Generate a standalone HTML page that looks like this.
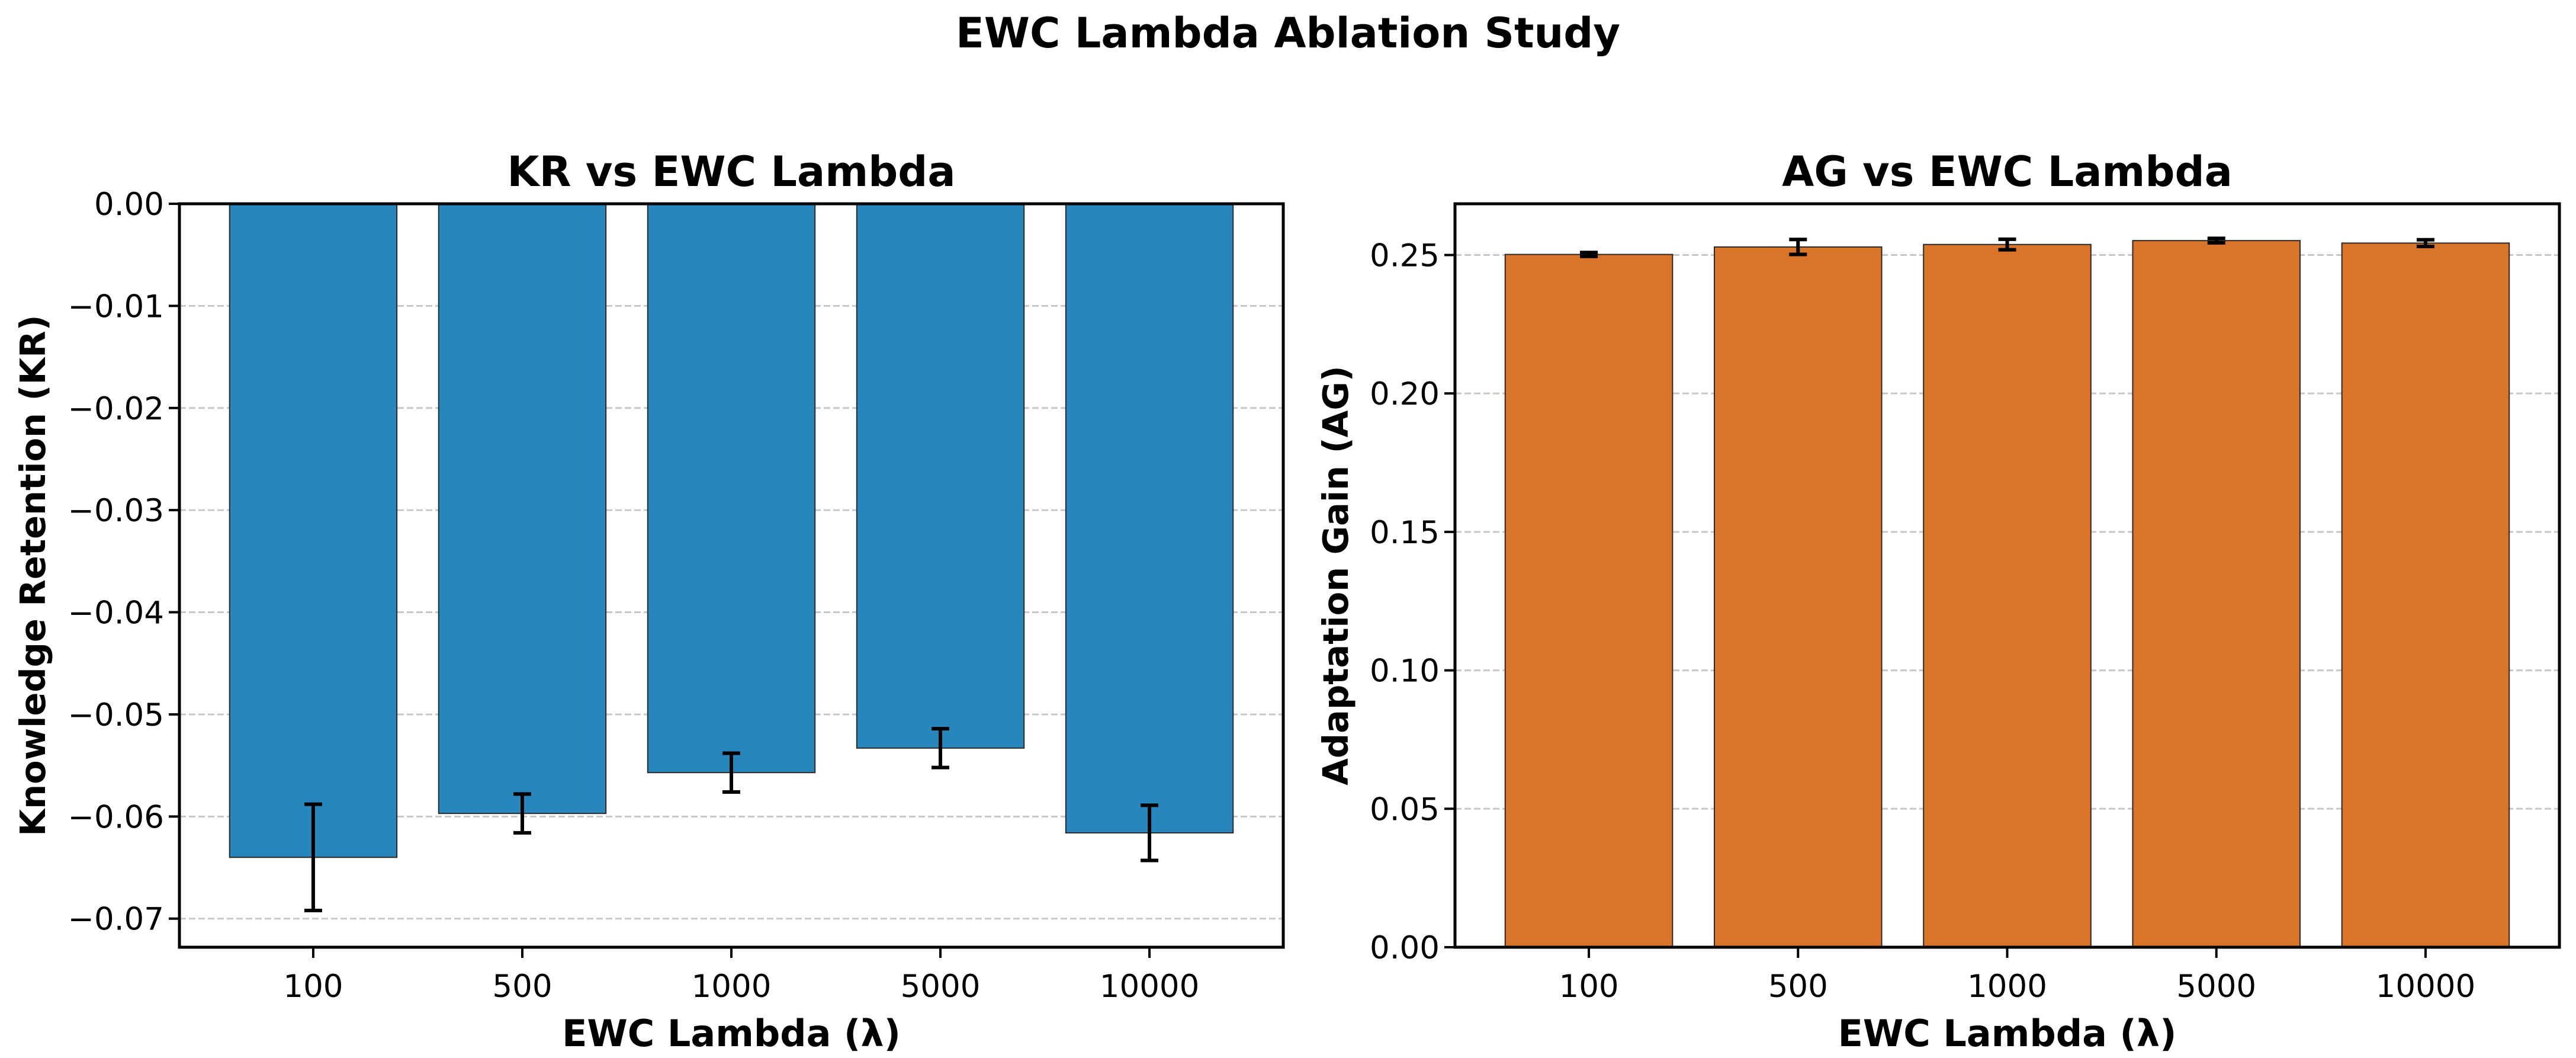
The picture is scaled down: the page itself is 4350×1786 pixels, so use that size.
<!DOCTYPE html>
<html><head><meta charset="utf-8"><style>
html,body{margin:0;padding:0;background:#fff;}
svg{display:block;font-family:"DejaVu Sans","Liberation Sans",sans-serif;}
</style></head><body>
<svg id="fig" width="4350" height="1786" viewBox="0 0 4350 1786" xmlns="http://www.w3.org/2000/svg">
<rect width="4350" height="1786" fill="#fff"/>
<text x="2175" y="80" text-anchor="middle" font-size="70" font-weight="bold">EWC Lambda Ablation Study</text>
<g id="left"></g>
<g id="right"></g>
</svg>
<script>
const categories = ["100","500","1000","5000","10000"];
const krValues = [-0.0640,-0.0597,-0.0557,-0.0533,-0.0616];
const krErrors = [0.0052,0.0019,0.0019,0.0019,0.0027];
const krTicks = [0,-0.01,-0.02,-0.03,-0.04,-0.05,-0.06,-0.07];
const krTickLabels = ["0.00","\u22120.01","\u22120.02","\u22120.03","\u22120.04","\u22120.05","\u22120.06","\u22120.07"];
const agValues = [0.2502,0.2529,0.2538,0.2552,0.2543];
const agErrors = [0.0007,0.0027,0.0019,0.0008,0.0012];
const agTicks = [0,0.05,0.10,0.15,0.20,0.25];
const agTickLabels = ["0.00","0.05","0.10","0.15","0.20","0.25"];

const NS="http://www.w3.org/2000/svg";
function mk(parent,tag,attrs,text){const e=document.createElementNS(NS,tag);for(const k in attrs)e.setAttribute(k,attrs[k]);if(text!==undefined)e.textContent=text;parent.appendChild(e);return e;}

function drawChart(g,opt){
  const L=opt.left,R=opt.right,T=344,B=1599;
  const xs=i=>L+(i+0.64)*(R-L)/5.28;
  const ys=v=>B-(v-opt.ymin)/(opt.ymax-opt.ymin)*(B-T);
  const bw=0.8*(R-L)/5.28;
  opt.ticks.forEach((t,i)=>{
    const y=ys(t);
    const gl=mk(g,"line",{x1:L,x2:R,y1:y,y2:y,stroke:"#c8c8c8","stroke-width":3,"stroke-dasharray":"11,5"});
    
    
  });
  opt.values.forEach((v,i)=>{
    const y0=ys(0),y1=ys(v);
    const b=mk(g,"rect",{x:xs(i)-bw/2,y:Math.min(y0,y1),width:bw,height:Math.abs(y1-y0),fill:opt.color,stroke:"#2a2a2a","stroke-width":2});
    
    
  });
  opt.values.forEach((v,i)=>{
    const e=opt.errors[i],cx=xs(i);
    const eg=mk(g,"g",{stroke:"#000","stroke-width":6});
    
    
    mk(eg,"line",{x1:cx,x2:cx,y1:ys(v-e),y2:ys(v+e)});
    mk(eg,"line",{x1:cx-15,x2:cx+15,y1:ys(v-e),y2:ys(v-e)});
    mk(eg,"line",{x1:cx-15,x2:cx+15,y1:ys(v+e),y2:ys(v+e)});
  });
  const fr=mk(g,"rect",{x:L,y:T,width:R-L,height:B-T,fill:"none",stroke:"#000","stroke-width":5});
  
  
  opt.ticks.forEach((t,i)=>{
    const y=ys(t);
    mk(g,"line",{x1:L-18,x2:L,y1:y,y2:y,stroke:"#000","stroke-width":4});
    const tl=mk(g,"text",{x:L-26,y:y+19,"text-anchor":"end","font-size":53},opt.tickLabels[i]);
    
    
  });
  categories.forEach((c,i)=>{
    const x=xs(i);
    mk(g,"line",{x1:x,x2:x,y1:B,y2:B+18,stroke:"#000","stroke-width":4});
    const tl=mk(g,"text",{x:x,y:B+84,"text-anchor":"middle","font-size":53},c);
    
    
  });
  const st=mk(g,"text",{x:(L+R)/2,y:314,"text-anchor":"middle","font-size":70,"font-weight":"bold"},opt.title);
  
  
  const xl=mk(g,"text",{x:(L+R)/2,y:1766,"text-anchor":"middle","font-size":62,"font-weight":"bold"},"EWC Lambda (\u03bb)");
  
  
  const cy=(T+B)/2;
  const yl=mk(g,"text",{x:opt.ylabelX,y:cy,"text-anchor":"middle","font-size":59,"font-weight":"bold",transform:"rotate(-90 "+opt.ylabelX+" "+cy+")"},opt.ylabel);
  
  
}
drawChart(document.getElementById("left"),{left:303,right:2167,ymin:-0.0728,ymax:0,values:krValues,errors:krErrors,ticks:krTicks,tickLabels:krTickLabels,color:"#2787bd",title:"KR vs EWC Lambda",ylabel:"Knowledge Retention (KR)",ylabelX:76});
drawChart(document.getElementById("right"),{left:2457,right:4322,ymin:0,ymax:0.2685,values:agValues,errors:agErrors,ticks:agTicks,tickLabels:agTickLabels,color:"#da7428",title:"AG vs EWC Lambda",ylabel:"Adaptation Gain (AG)",ylabelX:2276});
</script>
</body></html>
